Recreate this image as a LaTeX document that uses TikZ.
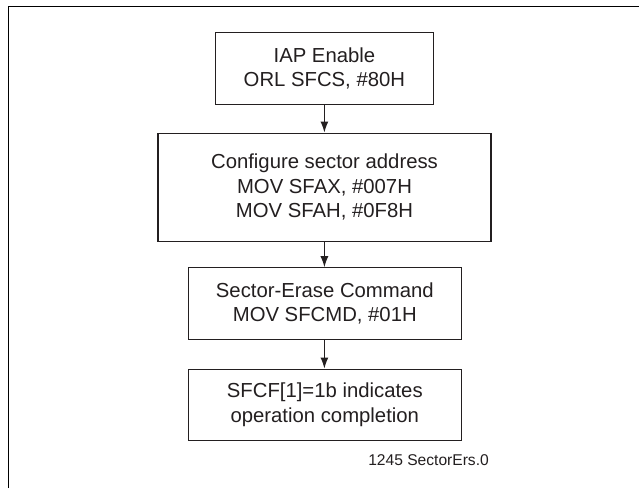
\documentclass[tikz,border=0pt]{standalone}
\usepackage{fontspec}
\setmainfont{Liberation Sans}
\usetikzlibrary{arrows.meta}
\definecolor{ink}{HTML}{231F20}
\begin{document}
\begin{tikzpicture}[x=1pt,y=1pt,
  flowbox/.style={draw=ink, line width=1.1pt, inner sep=0pt, align=center,
    text=ink, font=\fontsize{20.3}{24.5}\selectfont},
  arr/.style={draw=ink, line width=1.1pt, -{Latex[length=11pt,width=8pt]}}]
\useasboundingbox (0,0) rectangle (639,-488);
\fill[white] (0,0) rectangle (639,-488);
\coordinate (fa) at (8.7,-488);
\coordinate (fb) at (8.7,-6.7);
\coordinate (fc) at (639,-6.7);
\draw[black, line width=1.3pt] (fa) -- (fb) -- (fc);
\node[flowbox, minimum width=217.3pt, minimum height=71.7pt] (b1) at (324.4,-68.2)
  {IAP Enable\\ORL SFCS, \#80H};
\node[flowbox, minimum width=333pt, minimum height=108.5pt] (b2) at (324.5,-187.3)
  {Configure sector address\\MOV SFAX, \#007H\\MOV SFAH, \#0F8H};
\node[flowbox, minimum width=273pt, minimum height=71.3pt] (b3) at (324.8,-303.4)
  {Sector-Erase Command\\MOV SFCMD, \#01H};
\node[flowbox, minimum width=273pt, minimum height=71.5pt] (b4) at (324.8,-404.8)
  {SFCF[1]=1b indicates\\operation completion};
\node[anchor=base east, inner sep=0pt, text=ink, font=\fontsize{15.6}{18}\selectfont] (lbl) at (489,-465) {1245 SectorErs.0};
\draw[arr] (b1.south) -- (b1.south |- b2.north);
\draw[arr] (b1.south |- b2.south) -- (b1.south |- b3.north);
\draw[arr] (b1.south |- b3.south) -- (b1.south |- b4.north);
\end{tikzpicture}
\end{document}
